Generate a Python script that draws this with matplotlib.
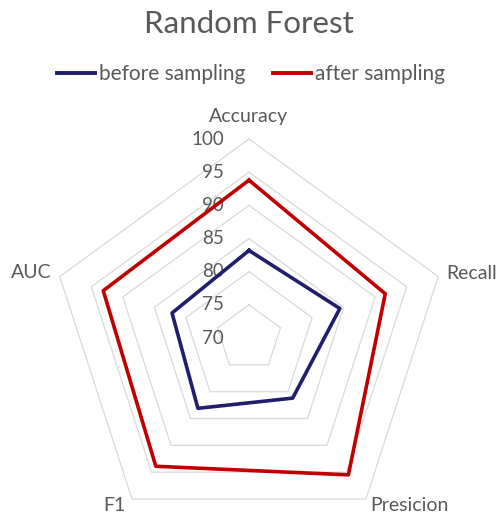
import numpy as np
from matplotlib import pyplot as plt
from matplotlib.lines import Line2D

plt.rcParams['font.family'] = ['Lato', 'DejaVu Sans']

metrics = ["Accuracy", "Recall", "Presicion", "F1", "AUC"]
before = [83.2, 84.4, 81.2, 83.1, 82.2]
after = [93.8, 91.6, 95.5, 93.9, 93.1]
levels = [70, 75, 80, 85, 90, 95, 100]

text_gray = "#595959"
grid_gray = "#D9D9D9"
navy = "#1F1F6B"
red = "#C00000"

fig = plt.figure(figsize=(5.02, 5.18), dpi=100)
# polar axes, centre of the web sits at 70
ax = fig.add_axes([0.0996, -0.0367, 0.7928, 0.7683], projection="polar")
ax.set_theta_offset(np.pi / 2)
ax.set_theta_direction(-1)
ax.set_ylim(70, 100)
ax.grid(False)
ax.set_xticks([])
ax.set_yticks([])
ax.spines["polar"].set_visible(False)
ax.patch.set_visible(False)

angles = np.linspace(0, 2 * np.pi, len(metrics), endpoint=False)
closed = np.append(angles, angles[0])

# pentagon gridlines
for lv in levels[1:]:
    ax.plot(closed, [lv] * len(closed), color=grid_gray, lw=0.9, clip_on=False, zorder=1)

for vals, col, lab in [(before, navy, "before sampling"), (after, red, "after sampling")]:
    ax.plot(closed, vals + vals[:1], color=col, lw=2.6, clip_on=False, zorder=3, label=lab)

# radial value labels along the Accuracy spoke
for lv in levels:
    ax.annotate(str(lv), xy=(0, lv), xytext=(-18, 0), textcoords="offset points",
                ha="right", va="center", fontsize=13.5, color=text_gray, zorder=2,
                annotation_clip=False)

# category labels around the outside
offsets = [(0, 16, "center"), (6, 2, "left"), (3, -5, "left"), (-5, -5, "right"), (-6, 3, "right")]
for ang, name, (dx, dy, ha) in zip(angles, metrics, offsets):
    ax.annotate(name, xy=(ang, 100), xytext=(dx, dy), textcoords="offset points",
                ha=ha, va="center", fontsize=14, color=text_gray, annotation_clip=False)

fig.text(0.495, 1 - 33 / 518, "Random Forest", ha="center", va="baseline",
         fontsize=22.5, color=text_gray)

handles = [Line2D([], [], color=navy, lw=2.8), Line2D([], [], color=red, lw=2.8)]
fig.legend(handles, ["before sampling", "after sampling"], loc="center",
           bbox_to_anchor=(0.5, 1 - 74 / 518), ncol=2, frameon=False,
           fontsize=15, labelcolor=text_gray, handlelength=1.85, handletextpad=0.2,
           columnspacing=1.3)

fig.savefig("out.png", dpi=100)
